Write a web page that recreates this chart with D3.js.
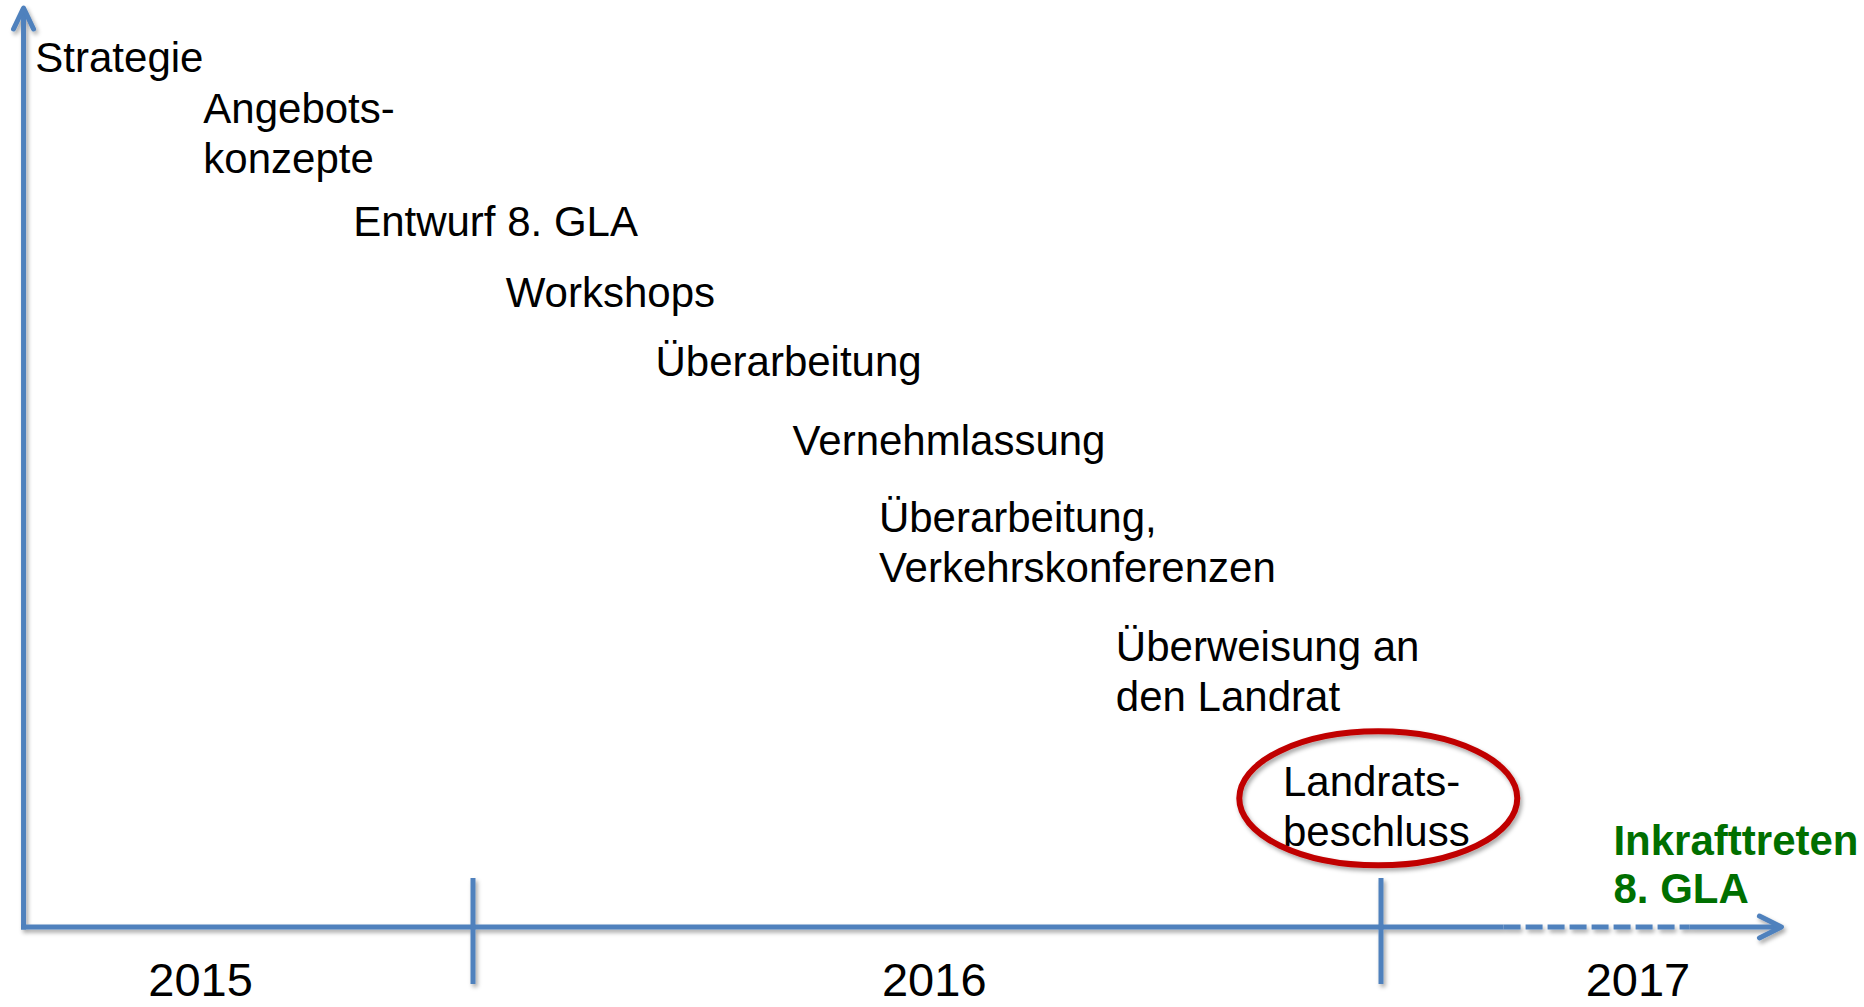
<!DOCTYPE html>
<html>
<head>
<meta charset="utf-8">
<script src="https://cdn.jsdelivr.net/npm/d3@7"></script>
<style>
  body { margin: 0; background: #fff; }
  svg { display: block; }
  text { font-family: "Liberation Sans", Arial, sans-serif; fill: #000; }
</style>
</head>
<body>
<div class="chart-container"></div>
<script>
var width = 1864;
var height = 1007;

// phases of the timeline, start given as decimal year, level as % of axis height
var phaseLabels = [
  ['Strategie'],
  ['Angebots-', 'konzepte'],
  ['Entwurf 8. GLA'],
  ['Workshops'],
  ['Überarbeitung'],
  ['Vernehmlassung'],
  ['Überarbeitung,', 'Verkehrskonferenzen'],
  ['Überweisung an', 'den Landrat'],
  ['Landrats-', 'beschluss']
];
var phaseStart = [2015.518, 2015.703, 2015.868, 2016.036, 2016.201, 2016.352, 2016.447, 2016.708, 2016.892];
var phaseLevel = [93.0, 87.5, 75.2, 67.5, 60.0, 51.4, 43.0, 28.9, 14.3];

// circled milestone (Landratsbeschluss)
var milestoneAt = 2016.997;
var milestoneLevel = 14.0;

// final step, in green
var finalLabel = ['Inkrafttreten', '8. GLA'];
var finalStart = 2017.256;
var finalLevel = 7.8;

// time axis
var yearLabels = ['2015', '2016', '2017'];
var yearLabelAt = [2015.70, 2016.508, 2017.283];
var yearTicks = [2016, 2017];
var axisStart = 2015.505;
var plannedFrom = 2017.135;
var plannedTo = 2017.34;
var axisEnd = 2017.441;

var blue = '#4f81bd';

var x = d3.scaleLinear()
  .domain([2016, 2017])
  .range([473, 1381]);

var y = d3.scaleLinear()
  .domain([0, 100])
  .range([927, 8]);

var svg = d3.select('.chart-container').append('svg')
  .attr('width', width)
  .attr('height', height);

var defs = svg.append('defs');
defs.append('filter')
    .attr('id', 'shadow')
    .attr('x', '-10%').attr('y', '-10%')
    .attr('width', '130%').attr('height', '130%')
  .append('feDropShadow')
    .attr('dx', 2).attr('dy', 3)
    .attr('stdDeviation', 2)
    .attr('flood-color', '#000')
    .attr('flood-opacity', 0.35);

var axes = svg.append('g')
    .attr('class', 'axes')
    .attr('filter', 'url(#shadow)')
    .attr('stroke', blue)
    .attr('stroke-width', 5)
    .attr('fill', 'none');

// vertical arrow
axes.append('line')
    .attr('x1', x(axisStart)).attr('x2', x(axisStart))
    .attr('y1', y(0) + 2.5).attr('y2', y(100) + 2);
axes.append('path')
    .attr('stroke-linecap', 'round')
    .attr('stroke-linejoin', 'round')
    .attr('d', `M${x(axisStart) - 10},${y(100) + 21}L${x(axisStart)},${y(100)}L${x(axisStart) + 10},${y(100) + 21}`);

// horizontal axis: solid, dashed (planned), solid arrow
axes.append('line')
    .attr('x1', x(axisStart) - 2.5).attr('x2', x(plannedFrom))
    .attr('y1', y(0)).attr('y2', y(0));
axes.append('line')
    .attr('x1', x(plannedFrom)).attr('x2', x(plannedTo))
    .attr('y1', y(0)).attr('y2', y(0))
    .attr('stroke-dasharray', '17 5');
axes.append('line')
    .attr('x1', x(plannedTo)).attr('x2', x(axisEnd) - 2)
    .attr('y1', y(0)).attr('y2', y(0));
axes.append('path')
    .attr('stroke-linecap', 'round')
    .attr('stroke-linejoin', 'round')
    .attr('d', `M${x(axisEnd) - 22},${y(0) - 11}L${x(axisEnd)},${y(0)}L${x(axisEnd) - 22},${y(0) + 11}`);

// year boundaries
axes.selectAll('.tick')
  .data(yearTicks)
  .enter().append('line')
    .attr('class', 'tick')
    .attr('x1', d => x(d)).attr('x2', d => x(d))
    .attr('y1', y(0) - 49).attr('y2', y(0) + 57);

svg.selectAll('.year')
  .data(yearLabels)
  .enter().append('text')
    .attr('class', 'year')
    .attr('x', (d, i) => x(yearLabelAt[i]))
    .attr('y', y(0) + 69)
    .attr('text-anchor', 'middle')
    .style('font-size', '47px')
    .text(d => d);

// phase labels
var phases = svg.selectAll('.phase')
  .data(phaseLabels)
  .enter().append('text')
    .attr('class', 'phase')
    .attr('x', (d, i) => x(phaseStart[i]))
    .attr('y', (d, i) => y(phaseLevel[i]))
    .style('font-size', '42px');
phases.selectAll('tspan')
  .data((d, i) => d.map(line => ({line: line, i: i})))
  .enter().append('tspan')
    .attr('x', d => x(phaseStart[d.i]))
    .attr('dy', (d, j) => j === 0 ? 0 : 50)
    .text(d => d.line);

// milestone circle
svg.append('ellipse')
    .attr('cx', x(milestoneAt))
    .attr('cy', y(milestoneLevel))
    .attr('rx', 139)
    .attr('ry', 67)
    .attr('fill', 'none')
    .attr('stroke', '#c00000')
    .attr('stroke-width', 6)
    .attr('filter', 'url(#shadow)');

var fin = svg.append('text')
    .attr('x', x(finalStart))
    .attr('y', y(finalLevel))
    .style('font-size', '42px')
    .style('font-weight', 'bold');
fin.selectAll('tspan')
  .data(finalLabel)
  .enter().append('tspan')
    .attr('x', x(finalStart))
    .attr('dy', (d, j) => j === 0 ? 0 : 48)
    .style('fill', '#006f00')
    .text(d => d);
</script>
</body>
</html>
